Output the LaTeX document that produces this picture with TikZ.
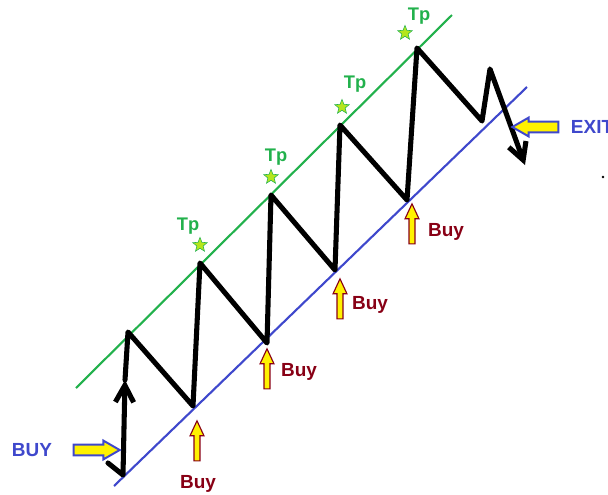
\documentclass[tikz,border=0pt]{standalone}
\usepackage{fontspec}
\setmainfont{Liberation Sans}
\usepackage{tikz}
\usetikzlibrary{arrows.meta, shapes.geometric, shapes.arrows}
\definecolor{chanGreen}{RGB}{34,177,76}
\definecolor{chanBlue}{RGB}{63,72,204}
\definecolor{signYellow}{RGB}{255,242,0}
\definecolor{buyRed}{RGB}{136,0,21}
\definecolor{starLime}{RGB}{181,230,29}

\begin{document}
\begin{tikzpicture}[
  x=0.025cm, y=-0.025cm,
  zig/.style={line width=3.6pt, line join=round, line cap=round},
  barb/.style={-{Straight Barb[length=12pt, width=13pt]}},
  chan/.style={line width=1.5pt},
  uparrow/.style={single arrow, draw=buyRed, fill=signYellow, line width=0.8pt,
                  inner xsep=0pt, inner ysep=0.06cm, minimum height=1cm,
                  single arrow head extend=0.1cm, single arrow tip angle=50,
                  single arrow head indent=0pt, rotate=90},
  siderow/.style={single arrow, draw=chanBlue, fill=signYellow, line width=1.4pt,
                  inner xsep=0pt, inner ysep=0.11cm, minimum height=1.15cm,
                  single arrow head extend=0.1cm, single arrow tip angle=60,
                  single arrow head indent=0pt},
  tpstar/.style={star, star points=5, star point ratio=2.3, minimum size=0.38cm,
                 inner sep=0pt, fill=starLime, draw=chanGreen, line width=0.4pt},
  tptext/.style={text=chanGreen, font=\fontsize{13}{15}\selectfont\bfseries},
  buytext/.style={text=buyRed, font=\fontsize{13.5}{16}\selectfont\bfseries},
  sidetext/.style={text=chanBlue, font=\fontsize{13.5}{16}\selectfont\bfseries}
]
\useasboundingbox (0,0) rectangle (608,495);
\clip (0,0) rectangle (608,495);

% channel lines
\coordinate (g0) at (76,388);
\coordinate (g1) at (452,15);
\coordinate (u0) at (114,486);
\coordinate (u1) at (527,87);
\draw[chan, chanGreen] (g0) -- (g1);
\draw[chan, chanBlue] (u0) -- (u1);

% price swings
\coordinate (s0) at (108,463);
\coordinate (b0) at (123,475);
\coordinate (m0) at (125,380);
\coordinate (t1) at (128,332);
\coordinate (b1) at (193,406);
\coordinate (t2) at (200,263);
\coordinate (b2) at (267,343);
\coordinate (t3) at (271,195);
\coordinate (b3) at (335,270);
\coordinate (t4) at (340,125);
\coordinate (b4) at (407,200);
\coordinate (t5) at (417,48);
\coordinate (b5) at (482,121);
\coordinate (t6) at (490,69);
\coordinate (end) at (525,165);
\draw[zig, barb] (s0) -- (b0) -- (m0);
\draw[zig, barb] (m0) -- (t1) -- (b1) -- (t2) -- (b2) -- (t3) -- (b3)
  -- (t4) -- (b4) -- (t5) -- (b5) -- (t6) -- (end);

% take profits
\node[tpstar] (star1) at (200,245) {};
\node[tpstar] (star2) at (271,177) {};
\node[tpstar] (star3) at (342,107) {};
\node[tpstar] (star4) at (405,33) {};
\node[tptext] (tp1) at (188,226) {Tp};
\node[tptext] (tp2) at (276,157) {Tp};
\node[tptext] (tp3) at (355,84) {Tp};
\node[tptext] (tp4) at (419,16) {Tp};

% buy signals
\node[uparrow] (buy1) at (197,444) {};
\node[uparrow] (buy2) at (267,372) {};
\node[uparrow] (buy3) at (340,302) {};
\node[uparrow] (buy4) at (412,227) {};
\node[buytext] (lbl1) at (198,484) {Buy};
\node[buytext] (lbl2) at (299,372) {Buy};
\node[buytext] (lbl3) at (370,305) {Buy};
\node[buytext] (lbl4) at (446,232) {Buy};

% entry and exit
\node[sidetext] (entry) at (32,450) {BUY};
\node[siderow] (entryarr) at (92,450) {};
\node[siderow, rotate=180] (exitarr) at (540,127) {};
\node[sidetext, anchor=west] (exit) at (566,127) {EXIT};

\fill (603,177) circle (1.3);
\end{tikzpicture}
\end{document}
